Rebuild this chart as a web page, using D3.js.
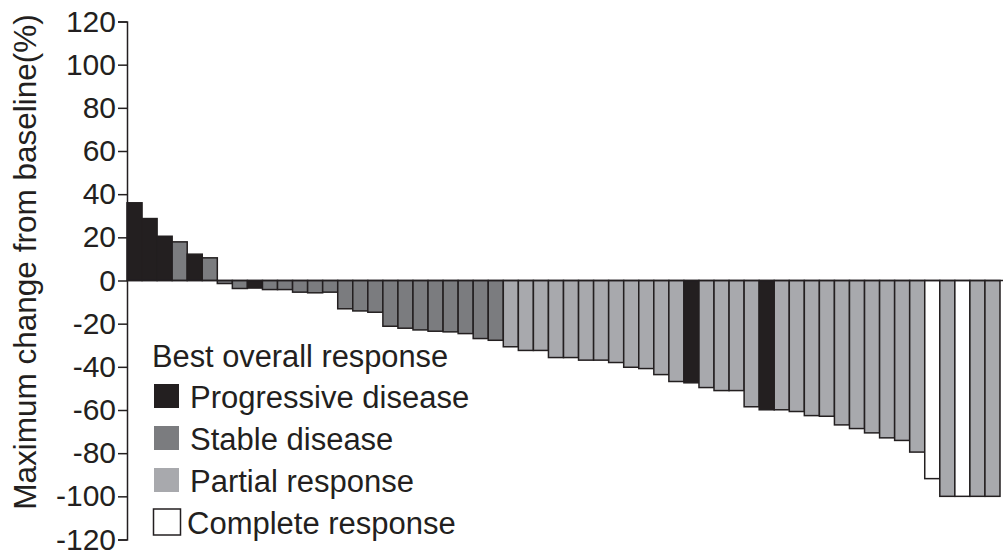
<!DOCTYPE html>
<html>
<head>
<meta charset="utf-8">
<script src="https://cdn.jsdelivr.net/npm/d3@7"></script>
<style>
body { margin: 0; background: #fff; }
svg text { font-family: "Liberation Sans", Arial, Helvetica, sans-serif; fill: #231f20; }
.axis path, .axis line { stroke: #231f20; stroke-width: 1.5; }
</style>
</head>
<body>
<div id="chart"></div>
<script>
// % change from baseline, one value per patient (sorted)
var changes = [36, 28.7, 20.5, 17.9, 12.2, 10.5, -1.4, -3.7, -3.5, -4.2,
	-4.2, -5.4, -5.7, -5.4, -13.1, -14.1, -14.7, -21.2, -22.1, -22.9,
	-23.5, -23.8, -24.6, -26.9, -27.7, -30.7, -32.4, -32.4, -35.7, -35.7,
	-36.9, -36.9, -38, -40.2, -40.8, -43.6, -46.8, -47.4, -49.6, -51,
	-51, -58.5, -59.9, -59.9, -60.7, -62.6, -62.9, -66.9, -68.6, -70.6,
	-72.9, -74.1, -79.5, -91.8, -100, -100, -100, -100];

var responses = ["PD", "PD", "PD", "SD", "PD", "SD", "SD", "SD", "PD", "SD",
	"SD", "SD", "SD", "SD", "SD", "SD", "SD", "SD", "SD", "SD",
	"SD", "SD", "SD", "SD", "SD", "PR", "PR", "PR", "PR", "PR",
	"PR", "PR", "PR", "PR", "PR", "PR", "PR", "PD", "PR", "PR",
	"PR", "PR", "PD", "PR", "PR", "PR", "PR", "PR", "PR", "PR",
	"PR", "PR", "PR", "CR", "PR", "CR", "PR", "PR"];

var legendKeys = ["PD", "SD", "PR", "CR"];
var legendLabels = ["Progressive disease", "Stable disease", "Partial response", "Complete response"];
var yTicks = [120, 100, 80, 60, 40, 20, 0, -20, -40, -60, -80, -100, -120];

var colors = { PD: "#231f20", SD: "#7b7c7f", PR: "#a8a9ad", CR: "#ffffff" };

var width = 1005, height = 550,
	plotLeft = 127, plotRight = 1000, plotTop = 21.5, plotBottom = 539.5;

var svg = d3.select("#chart").append("svg")
	.attr("width", width)
	.attr("height", height);

var x = d3.scaleBand()
	.domain(d3.range(changes.length))
	.range([plotLeft, plotRight])
	.padding(0);

var y = d3.scaleLinear()
	.domain([-120, 120])
	.range([plotBottom, plotTop]);

var bars = svg.append("g");

bars.selectAll("rect")
	.data(changes)
	.enter().append("rect")
	.attr("x", function(d, i) { return x(i); })
	.attr("y", function(d) { return d > 0 ? y(d) : y(0); })
	.attr("width", x.bandwidth())
	.attr("height", function(d) { return Math.abs(y(d) - y(0)); })
	.attr("fill", function(d, i) { return colors[responses[i]]; })
	.attr("stroke", "#231f20")
	.attr("stroke-width", 1.5);

svg.append("line")
	.attr("x1", plotLeft)
	.attr("x2", plotRight + 3)
	.attr("y1", y(0))
	.attr("y2", y(0))
	.attr("stroke", "#231f20")
	.attr("stroke-width", 1.5);

var yAxis = svg.append("g")
	.attr("class", "axis")
	.attr("transform", "translate(" + plotLeft + ",0)")
	.call(d3.axisLeft(y)
		.tickValues(yTicks)
		.tickFormat(function(d) { return String(d); })
		.tickSize(9).tickSizeOuter(9).tickPadding(2));

yAxis.selectAll("text")
	.style("font-size", "30px")
	.attr("fill", "#231f20");

svg.append("text")
	.attr("transform", "translate(36,262) rotate(-90)")
	.attr("text-anchor", "middle")
	.style("font-size", "31.5px")
	.text("Maximum change from baseline(%)");

// legend
var legend = svg.append("g");

legend.append("text")
	.attr("x", 152)
	.attr("y", 367)
	.style("font-size", "30.8px")
	.text("Best overall response");

var item = legend.selectAll(".item")
	.data(legendKeys)
	.enter().append("g")
	.attr("class", "item")
	.attr("transform", function(d, i) { return "translate(0," + (384 + i * 42) + ")"; });

item.append("rect")
	.attr("x", function(d) { return d == "CR" ? 153.5 : 154; })
	.attr("y", function(d) { return d == "CR" ? -1 : 0; })
	.attr("width", function(d) { return d == "CR" ? 27 : 25; })
	.attr("height", function(d) { return d == "CR" ? 26 : 24; })
	.attr("fill", function(d) { return colors[d]; })
	.attr("stroke", function(d) { return d == "CR" ? "#231f20" : "none"; })
	.attr("stroke-width", 1.5);

item.append("text")
	.attr("x", function(d) { return d == "CR" ? 187 : 190; })
	.attr("y", 24)
	.style("font-size", "31px")
	.text(function(d, i) { return legendLabels[i]; });
</script>
</body>
</html>
